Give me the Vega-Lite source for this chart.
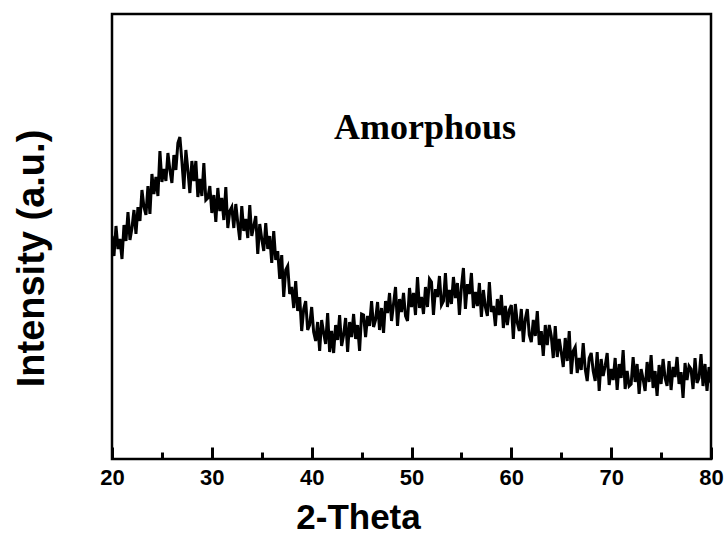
{
  "$schema": "https://vega.github.io/schema/vega-lite/v6.json",
  "width": 599,
  "height": 445,
  "autosize": "none",
  "padding": {"left": 112, "top": 14, "right": 15, "bottom": 76},
  "background": "white",
  "config": {
    "view": {"stroke": "black", "strokeWidth": 2.5},
    "font": "Liberation Sans",
    "axis": {"grid": false, "domain": false, "tickColor": "black", "tickWidth": 2.5, "labelColor": "black", "titleColor": "black"}
  },
  "datasets": {
    "xrd": [
      {"t":20.0,"i":223},{"t":20.2,"i":203},{"t":20.4,"i":233},{"t":20.6,"i":210},{"t":20.8,"i":220},{"t":21.0,"i":200},{"t":21.2,"i":234},{"t":21.4,"i":218},{"t":21.6,"i":247},{"t":21.8,"i":219},
      {"t":22.0,"i":231},{"t":22.2,"i":249},{"t":22.4,"i":225},{"t":22.6,"i":252},{"t":22.8,"i":238},{"t":23.0,"i":269},{"t":23.2,"i":252},{"t":23.4,"i":244},{"t":23.6,"i":273},{"t":23.8,"i":245},
      {"t":24.0,"i":285},{"t":24.2,"i":265},{"t":24.4,"i":282},{"t":24.6,"i":263},{"t":24.8,"i":308},{"t":25.0,"i":277},{"t":25.2,"i":290},{"t":25.4,"i":278},{"t":25.6,"i":306},{"t":25.8,"i":289},
      {"t":26.0,"i":276},{"t":26.2,"i":304},{"t":26.4,"i":289},{"t":26.6,"i":316},{"t":26.8,"i":322},{"t":27.0,"i":298},{"t":27.2,"i":270},{"t":27.4,"i":309},{"t":27.6,"i":289},{"t":27.8,"i":266},
      {"t":28.0,"i":298},{"t":28.2,"i":278},{"t":28.4,"i":298},{"t":28.6,"i":262},{"t":28.8,"i":280},{"t":29.0,"i":263},{"t":29.2,"i":296},{"t":29.4,"i":259},{"t":29.6,"i":261},{"t":29.8,"i":273},
      {"t":30.0,"i":246},{"t":30.2,"i":264},{"t":30.4,"i":237},{"t":30.6,"i":271},{"t":30.8,"i":248},{"t":31.0,"i":261},{"t":31.2,"i":239},{"t":31.4,"i":272},{"t":31.6,"i":231},{"t":31.8,"i":248},
      {"t":32.0,"i":252},{"t":32.2,"i":231},{"t":32.4,"i":255},{"t":32.6,"i":236},{"t":32.8,"i":219},{"t":33.0,"i":253},{"t":33.2,"i":228},{"t":33.4,"i":240},{"t":33.6,"i":221},{"t":33.8,"i":254},
      {"t":34.0,"i":223},{"t":34.2,"i":233},{"t":34.4,"i":243},{"t":34.6,"i":205},{"t":34.8,"i":235},{"t":35.0,"i":220},{"t":35.2,"i":208},{"t":35.4,"i":236},{"t":35.6,"i":210},{"t":35.8,"i":223},
      {"t":36.0,"i":196},{"t":36.2,"i":228},{"t":36.4,"i":199},{"t":36.6,"i":208},{"t":36.8,"i":180},{"t":37.0,"i":204},{"t":37.2,"i":162},{"t":37.4,"i":189},{"t":37.6,"i":193},{"t":37.8,"i":165},
      {"t":38.0,"i":172},{"t":38.2,"i":151},{"t":38.4,"i":178},{"t":38.6,"i":148},{"t":38.8,"i":162},{"t":39.0,"i":128},{"t":39.2,"i":150},{"t":39.4,"i":158},{"t":39.6,"i":129},{"t":39.8,"i":134},
      {"t":40.0,"i":152},{"t":40.2,"i":127},{"t":40.4,"i":118},{"t":40.6,"i":137},{"t":40.8,"i":108},{"t":41.0,"i":139},{"t":41.2,"i":126},{"t":41.4,"i":115},{"t":41.6,"i":146},{"t":41.8,"i":107},
      {"t":42.0,"i":128},{"t":42.2,"i":106},{"t":42.4,"i":134},{"t":42.6,"i":119},{"t":42.8,"i":144},{"t":43.0,"i":113},{"t":43.2,"i":124},{"t":43.4,"i":141},{"t":43.6,"i":107},{"t":43.8,"i":137},
      {"t":44.0,"i":122},{"t":44.2,"i":145},{"t":44.4,"i":120},{"t":44.6,"i":134},{"t":44.8,"i":108},{"t":45.0,"i":145},{"t":45.2,"i":144},{"t":45.4,"i":122},{"t":45.6,"i":143},{"t":45.8,"i":133},
      {"t":46.0,"i":158},{"t":46.2,"i":132},{"t":46.4,"i":139},{"t":46.6,"i":157},{"t":46.8,"i":129},{"t":47.0,"i":151},{"t":47.2,"i":126},{"t":47.4,"i":158},{"t":47.6,"i":146},{"t":47.8,"i":166},
      {"t":48.0,"i":138},{"t":48.2,"i":155},{"t":48.4,"i":172},{"t":48.6,"i":133},{"t":48.8,"i":160},{"t":49.0,"i":147},{"t":49.2,"i":166},{"t":49.4,"i":143},{"t":49.6,"i":138},{"t":49.8,"i":171},
      {"t":50.0,"i":152},{"t":50.2,"i":166},{"t":50.4,"i":144},{"t":50.6,"i":182},{"t":50.8,"i":151},{"t":51.0,"i":162},{"t":51.2,"i":145},{"t":51.4,"i":172},{"t":51.6,"i":152},{"t":51.8,"i":180},
      {"t":52.0,"i":177},{"t":52.2,"i":144},{"t":52.4,"i":170},{"t":52.6,"i":162},{"t":52.8,"i":183},{"t":53.0,"i":154},{"t":53.2,"i":158},{"t":53.4,"i":186},{"t":53.6,"i":152},{"t":53.8,"i":169},
      {"t":54.0,"i":155},{"t":54.2,"i":182},{"t":54.4,"i":161},{"t":54.6,"i":176},{"t":54.8,"i":144},{"t":55.0,"i":172},{"t":55.2,"i":191},{"t":55.4,"i":150},{"t":55.6,"i":175},{"t":55.8,"i":165},
      {"t":56.0,"i":186},{"t":56.2,"i":151},{"t":56.4,"i":167},{"t":56.6,"i":153},{"t":56.8,"i":176},{"t":57.0,"i":142},{"t":57.2,"i":169},{"t":57.4,"i":152},{"t":57.6,"i":143},{"t":57.8,"i":177},
      {"t":58.0,"i":147},{"t":58.2,"i":153},{"t":58.4,"i":133},{"t":58.6,"i":160},{"t":58.8,"i":144},{"t":59.0,"i":164},{"t":59.2,"i":131},{"t":59.4,"i":153},{"t":59.6,"i":134},{"t":59.8,"i":149},
      {"t":60.0,"i":154},{"t":60.2,"i":120},{"t":60.4,"i":155},{"t":60.6,"i":136},{"t":60.8,"i":128},{"t":61.0,"i":150},{"t":61.2,"i":117},{"t":61.4,"i":140},{"t":61.6,"i":150},{"t":61.8,"i":124},
      {"t":62.0,"i":117},{"t":62.2,"i":139},{"t":62.4,"i":123},{"t":62.6,"i":148},{"t":62.8,"i":114},{"t":63.0,"i":128},{"t":63.2,"i":103},{"t":63.4,"i":134},{"t":63.6,"i":114},{"t":63.8,"i":134},
      {"t":64.0,"i":123},{"t":64.2,"i":101},{"t":64.4,"i":133},{"t":64.6,"i":102},{"t":64.8,"i":120},{"t":65.0,"i":107},{"t":65.2,"i":92},{"t":65.4,"i":121},{"t":65.6,"i":98},{"t":65.8,"i":128},
      {"t":66.0,"i":85},{"t":66.2,"i":108},{"t":66.4,"i":112},{"t":66.6,"i":86},{"t":66.8,"i":101},{"t":67.0,"i":89},{"t":67.2,"i":116},{"t":67.4,"i":90},{"t":67.6,"i":78},{"t":67.8,"i":101},
      {"t":68.0,"i":106},{"t":68.2,"i":88},{"t":68.4,"i":78},{"t":68.6,"i":107},{"t":68.8,"i":68},{"t":69.0,"i":100},{"t":69.2,"i":83},{"t":69.4,"i":93},{"t":69.6,"i":106},{"t":69.8,"i":74},
      {"t":70.0,"i":90},{"t":70.2,"i":79},{"t":70.4,"i":101},{"t":70.6,"i":69},{"t":70.8,"i":95},{"t":71.0,"i":81},{"t":71.2,"i":109},{"t":71.4,"i":70},{"t":71.6,"i":88},{"t":71.8,"i":73},
      {"t":72.0,"i":75},{"t":72.2,"i":102},{"t":72.4,"i":77},{"t":72.6,"i":95},{"t":72.8,"i":65},{"t":73.0,"i":90},{"t":73.2,"i":80},{"t":73.4,"i":68},{"t":73.6,"i":97},{"t":73.8,"i":77},
      {"t":74.0,"i":104},{"t":74.2,"i":71},{"t":74.4,"i":88},{"t":74.6,"i":63},{"t":74.8,"i":94},{"t":75.0,"i":75},{"t":75.2,"i":100},{"t":75.4,"i":81},{"t":75.6,"i":73},{"t":75.8,"i":98},
      {"t":76.0,"i":69},{"t":76.2,"i":92},{"t":76.4,"i":82},{"t":76.6,"i":102},{"t":76.8,"i":75},{"t":77.0,"i":87},{"t":77.2,"i":61},{"t":77.4,"i":96},{"t":77.6,"i":79},{"t":77.8,"i":93},
      {"t":78.0,"i":90},{"t":78.2,"i":70},{"t":78.4,"i":101},{"t":78.6,"i":76},{"t":78.8,"i":81},{"t":79.0,"i":105},{"t":79.2,"i":73},{"t":79.4,"i":95},{"t":79.6,"i":68},{"t":79.8,"i":92},
      {"t":80.0,"i":76}
    ],
    "note": [{"t": 51.35, "i": 320, "label": "Amorphous"}]
  },
  "resolve": {"axis": {"x": "independent"}},
  "layer": [
    {
      "data": {"name": "xrd"},
      "mark": {"type": "line", "color": "black", "strokeWidth": 3, "strokeJoin": "miter", "clip": true},
      "encoding": {
        "x": {
          "field": "t", "type": "quantitative",
          "scale": {"domain": [20, 80], "nice": false, "zero": false},
          "axis": {
            "orient": "bottom",
            "values": [20, 30, 40, 50, 60, 70, 80],
            "tickSize": -12,
            "tickWidth": 3,
            "labelPadding": 20,
            "labelFlush": false,
            "labelFont": "Liberation Sans",
            "labelFontSize": 22,
            "labelFontWeight": "bold",
            "title": "2-Theta",
            "titleFont": "Liberation Sans",
            "titleFontSize": 35,
            "titleFontWeight": "bold",
            "titleX": 246,
            "titleY": 69,
            "titleAlign": "center",
            "titleBaseline": "alphabetic"
          }
        },
        "y": {
          "field": "i", "type": "quantitative",
          "scale": {"domain": [0, 445], "nice": false, "zero": false},
          "axis": {
            "ticks": false,
            "labels": false,
            "title": "Intensity (a.u.)",
            "titleFont": "Liberation Sans",
            "titleFontSize": 38,
            "titleFontWeight": "bold",
            "titleX": -80,
            "titleY": 244,
            "titleAlign": "center",
            "titleBaseline": "middle",
            "titleAngle": -90
          }
        }
      }
    },
    {
      "data": {"name": "note"},
      "mark": {"type": "text", "font": "Liberation Serif", "fontWeight": "bold", "fontSize": 36, "align": "center", "baseline": "alphabetic", "color": "black"},
      "encoding": {
        "x": {
          "field": "t", "type": "quantitative",
          "axis": {
            "orient": "bottom",
            "values": [25, 35, 45, 55, 65, 75],
            "tickSize": -7,
            "tickWidth": 3,
            "labels": false,
            "title": null
          }
        },
        "y": {"field": "i", "type": "quantitative"},
        "text": {"field": "label"}
      }
    }
  ]
}
